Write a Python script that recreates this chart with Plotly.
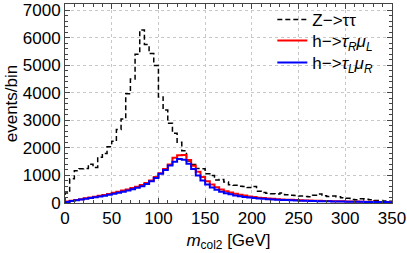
import numpy as np
import plotly.graph_objects as go

bin_width = 5
edges = np.arange(0, 350 + bin_width, bin_width)

z_tautau = [360, 880, 1170, 1240, 1250, 1410, 1290, 1660, 1800, 2040,
            2240, 2670, 3050, 3960, 4500, 5400, 6280, 5750, 5420, 4990,
            3850, 3370, 2890, 2530, 2200, 1900, 1520, 1400, 1250, 1240,
            1060, 1000, 830, 850, 760, 660, 640, 610, 600, 560,
            600, 430, 380, 350, 340, 330, 360, 300, 280, 270,
            250, 240, 230, 280, 330, 260, 240, 250, 230, 190,
            170, 130, 120, 150, 140, 120, 90, 90, 70, 60]

h_RL = [50, 80, 110, 140, 170, 200, 230, 260, 290, 330,
        370, 410, 450, 490, 540, 590, 650, 730, 820, 940,
        1080, 1230, 1400, 1640, 1730, 1740, 1560, 1350, 1130, 940,
        790, 670, 570, 490, 430, 380, 340, 300, 270, 240,
        215, 195, 180, 165, 150, 140, 130, 120, 115, 110,
        100, 95, 90, 85, 80, 75, 72, 68, 64, 60,
        57, 54, 51, 48, 46, 44, 42, 40, 38, 36]

h_LR = [40, 70, 100, 125, 150, 180, 205, 235, 265, 300,
        335, 370, 410, 450, 500, 550, 610, 690, 790, 910,
        1060, 1200, 1360, 1500, 1600, 1570, 1420, 1230, 1000, 820,
        670, 560, 480, 410, 355, 315, 275, 245, 220, 200,
        180, 165, 150, 140, 130, 120, 110, 105, 98, 92,
        86, 80, 76, 72, 68, 64, 60, 57, 54, 51,
        48, 46, 44, 42, 40, 38, 36, 34, 32, 30]

x_ticks = [0, 50, 100, 150, 200, 250, 300, 350]
y_ticks = [0, 1000, 2000, 3000, 4000, 5000, 6000, 7000]


def step_xy(vals):
    xs = [edges[0]] + list(edges[:-1]) + [edges[-1]]
    ys = [0] + list(vals) + [vals[-1]]
    return xs, ys


FONT = "Liberation Sans"
FS = 17
fig = go.Figure()

series = [
    (z_tautau, "Z\u2212>\u03c4\u03c4", dict(color="black", width=1.5, dash="5px,3px"), "legend"),
    (h_RL, "h\u2212><i>\u03c4</i><sub><i>R</i></sub><i>\u03bc</i><sub><i>L</i></sub>",
     dict(color="#ff0000", width=2), "legend2"),
    (h_LR, "h\u2212><i>\u03c4</i><sub><i>L</i></sub><i>\u03bc</i><sub><i>R</i></sub>",
     dict(color="#0000ff", width=2), "legend3"),
]
for vals, name, line, leg in series:
    xs, ys = step_xy(vals)
    fig.add_trace(go.Scatter(x=xs, y=ys, mode="lines", line_shape="hv",
                             name=name, line=line, legend=leg))

axis_common = dict(
    showline=True, linecolor="#444444", linewidth=1, mirror="allticks",
    ticks="inside", ticklen=5, tickcolor="#444444", tickwidth=1,
    showgrid=True, gridcolor="#c8c8c8", griddash="dot", gridwidth=1,
    zeroline=False, automargin=False,
    tickfont=dict(family=FONT, size=FS, color="black"),
)

fig.update_xaxes(
    range=[0, 350], tickvals=x_ticks, ticktext=[str(v) for v in x_ticks],
    minor=dict(ticks="inside", dtick=10, ticklen=3, tickcolor="#444444", showgrid=False),
    title=dict(text="<i>m</i><sub>col2</sub> [GeV]",
               font=dict(family=FONT, size=FS, color="black"), standoff=6),
    **axis_common,
)
fig.update_yaxes(
    range=[0, 7220], tickvals=y_ticks, ticktext=[str(v) for v in y_ticks],
    minor=dict(ticks="inside", dtick=200, ticklen=3, tickcolor="#444444", showgrid=False),
    title=dict(text="events/bin", font=dict(family=FONT, size=FS, color="black"), standoff=0),
    **axis_common,
)

leg_common = dict(x=0.634, xanchor="left", yanchor="middle",
                  bgcolor="rgba(255,255,255,0)", borderwidth=0,
                  font=dict(family=FONT, size=FS, color="black"), itemwidth=30)
fig.update_layout(
    width=407, height=253,
    margin=dict(l=65, r=15, t=3, b=50),
    plot_bgcolor="white", paper_bgcolor="white",
    font=dict(family=FONT, size=FS, color="black"),
    showlegend=True,
    legend=dict(y=0.915, **leg_common),
    legend2=dict(y=0.81, **leg_common),
    legend3=dict(y=0.70, **leg_common),
)

fig.write_html("out.html", config={"displayModeBar": False},
               post_script="document.body.style.margin='0';document.body.style.padding='0';")
